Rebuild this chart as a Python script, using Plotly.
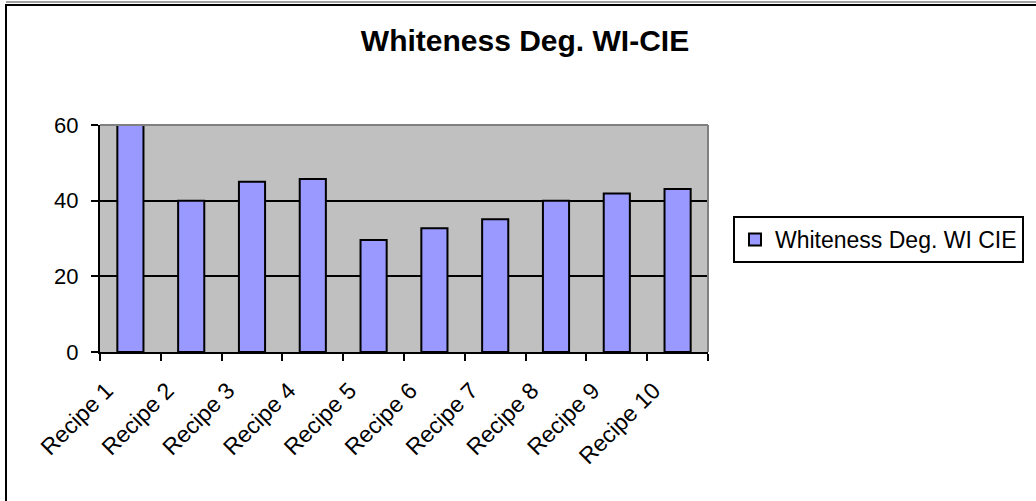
import plotly.graph_objects as go

# Whiteness degree (WI-CIE) per recipe
recipes = ["Recipe 1", "Recipe 2", "Recipe 3", "Recipe 4", "Recipe 5",
           "Recipe 6", "Recipe 7", "Recipe 8", "Recipe 9", "Recipe 10"]
whiteness = [60, 40, 45, 45.7, 29.6, 32.7, 35.1, 40, 41.9, 43.1]
y_ticks = [0, 20, 40, 60]

series_name = "Whiteness Deg. WI CIE"
chart_title = "Whiteness Deg. WI-CIE"

W, H = 1036, 501
ML, MR, MT, MB = 100, 328, 125, 149
PW, PH = W - ML - MR, H - MT - MB

FONT = "Liberation Sans, Arial, sans-serif"


def px_x(p):
    return (p - ML) / PW


def px_y(p):
    return (H - MB - p) / PH


fig = go.Figure()
fig.add_trace(go.Bar(
    x=recipes,
    y=whiteness,
    name=series_name,
    marker=dict(color="#9999ff", line=dict(color="#000000", width=2)),
    showlegend=True,
))

fig.update_layout(
    width=W,
    height=H,
    margin=dict(l=ML, r=MR, t=MT, b=MB, autoexpand=False),
    paper_bgcolor="#ffffff",
    plot_bgcolor="#c0c0c0",
    bargap=0.57,
    font=dict(family=FONT, size=21, color="#000000"),
    title=dict(
        text="<b>" + chart_title + "</b>",
        x=525 / W,
        xanchor="center",
        xref="container",
        y=1 - 40 / H,
        yanchor="middle",
        yref="container",
        font=dict(family=FONT, size=30, color="#000000"),
    ),
    legend=dict(
        x=px_x(733),
        xanchor="left",
        y=px_y(216),
        yanchor="top",
        bgcolor="#ffffff",
        bordercolor="#000000",
        borderwidth=2,
        font=dict(family=FONT, size=23, color="#000000"),
        itemwidth=30,
        tracegroupgap=0,
    ),
    xaxis=dict(
        type="category",
        tickangle=-45,
        ticks="outside",
        tickson="boundaries",
        ticklen=7,
        tickwidth=2,
        tickcolor="#000000",
        showline=True,
        linecolor="#000000",
        linewidth=2,
        showgrid=False,
        tickfont=dict(family=FONT, size=23),
        ticklabelshift=-24,
        ticklabelstandoff=14,
    ),
    yaxis=dict(
        range=[0, 60],
        tickvals=y_ticks,
        ticks="outside",
        ticklen=7,
        tickwidth=2,
        tickcolor="#000000",
        showline=True,
        linecolor="#000000",
        linewidth=2,
        showgrid=True,
        gridcolor="#000000",
        gridwidth=2,
        zeroline=False,
        tickfont=dict(family=FONT, size=22),
        ticklabelstandoff=8,
    ),
    shapes=[
        # plot area border on top and right
        dict(type="line", xref="paper", yref="paper", x0=0, x1=1, y0=1, y1=1,
             line=dict(color="#808080", width=2), layer="above"),
        dict(type="line", xref="paper", yref="paper", x0=1, x1=1, y0=0, y1=1,
             line=dict(color="#808080", width=2), layer="above"),
        # chart area frame
        dict(type="rect", xref="paper", yref="paper",
             x0=px_x(6), x1=px_x(W + 20), y0=px_y(H + 20), y1=px_y(5),
             line=dict(color="#000000", width=2), fillcolor="rgba(0,0,0,0)"),
        dict(type="line", xref="paper", yref="paper",
             x0=px_x(6), x1=px_x(W + 20), y0=px_y(2), y1=px_y(2),
             line=dict(color="#a0a0a0", width=2)),
    ],
)

fig.write_html("out.html")
